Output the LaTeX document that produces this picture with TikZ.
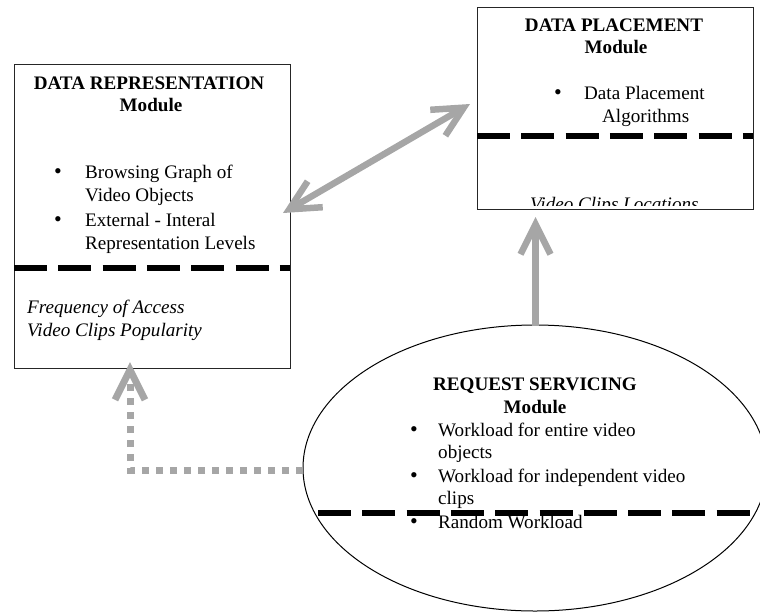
\documentclass[tikz,border=0pt]{standalone}
\usepackage{fontspec}
\setmainfont{Liberation Serif}
\usetikzlibrary{arrows.meta,shapes.geometric}
\definecolor{agray}{RGB}{166,166,166}
\begin{document}
\begin{tikzpicture}[x=1pt,y=-1pt,
  txt/.style={inner sep=0pt, font=\fontsize{19.1pt}{23pt}\selectfont},
  ttl/.style={txt, font=\fontsize{19.1pt}{23pt}\selectfont\bfseries, anchor=base},
  itx/.style={txt, font=\fontsize{19.1pt}{23pt}\selectfont\itshape, anchor=base west},
  btx/.style={txt, anchor=base west},
  bul/.style={txt, font=\fontsize{22pt}{23pt}\selectfont, anchor=base},
  modbox/.style={draw=black!85, line width=1.3pt, fill=white, inner sep=0pt},
  sepline/.style={line width=5.5pt, dash pattern=on 33pt off 11.3pt},
  garrow/.style={draw=agray, line width=6.5pt},
  chev/.tip={Straight Barb[length=30pt,width=30pt,line cap=butt,line join=miter]}
]
\useasboundingbox (0,0) rectangle (760,613);

% boxes
\node[modbox, anchor=north west, minimum width=276pt, minimum height=304pt] (rep) at (14,64) {};
\node[modbox, anchor=north west, minimum width=276pt, minimum height=202pt] (plc) at (477,7) {};
\node[draw=black, line width=1pt, fill=white, ellipse, inner sep=0pt,
      minimum width=464pt, minimum height=286pt] (req) at (535,468) {};

% separators
\draw[sepline] (14,268) -- (290,268);
\draw[sepline] (477,136) -- (753,136);
\draw[sepline] (318,513) -- (753,513);

% left box text
\node[ttl] (repT) at (149,89) {DATA REPRESENTATION};
\node[ttl] (repM) at (151,111.5) {Module};
\node[bul] (rb1) at (58,178) {•};
\node[btx] (rl1) at (85,178) {Browsing Graph of};
\node[btx] (rl2) at (85,201) {Video Objects};
\node[bul] (rb2) at (58,226) {•};
\node[btx] (rl3) at (85,226) {External - Interal};
\node[btx] (rl4) at (85,249) {Representation Levels};
\node[itx] (rf1) at (27,313) {Frequency of Access};
\node[itx] (rf2) at (27,336) {Video Clips Popularity};

% right box text
\node[ttl] (plcT) at (614,31.5) {DATA PLACEMENT};
\node[ttl] (plcM) at (616,53.5) {Module};
\node[bul] (pb1) at (558,99) {•};
\node[btx] (pl1) at (584,99) {Data Placement};
\node[btx] (pl2) at (602,122) {Algorithms};
\begin{scope}
  \clip (478,150) rectangle (752,205.5);
  \node[itx] (ploc) at (530,210.5) {Video Clips Locations};
\end{scope}

% ellipse text
\node[ttl] (reqT) at (535,390.5) {REQUEST SERVICING};
\node[ttl] (reqM) at (535,413) {Module};
\node[bul] (qb1) at (414,436) {•};
\node[btx] (ql1) at (438,436) {Workload for entire video};
\node[btx] (ql2) at (438,458) {objects};
\node[bul] (qb2) at (414,482) {•};
\node[btx] (ql3) at (438,482) {Workload for independent video};
\node[btx] (ql4) at (438,504) {clips};
\node[bul] (qb3) at (414,528) {•};
\node[btx] (ql5) at (438,528) {Random Workload};

% connectors
\coordinate (dA) at (283,213);
\coordinate (dB) at (470,104);
\draw[garrow, chev-chev] (dA) -- (dB);

\coordinate (vA) at (535.5,326);
\coordinate (vB) at (535.5,217);
\draw[garrow, -chev] (vA) -- (vB);

\coordinate (pA) at (303,470);
\coordinate (pC) at (130,470);
\coordinate (pB) at (130,362);
\draw[garrow, line width=7pt, dash pattern=on 7pt off 7pt, -chev] (pA) -- (pC) -- (pB);
\end{tikzpicture}
\end{document}
